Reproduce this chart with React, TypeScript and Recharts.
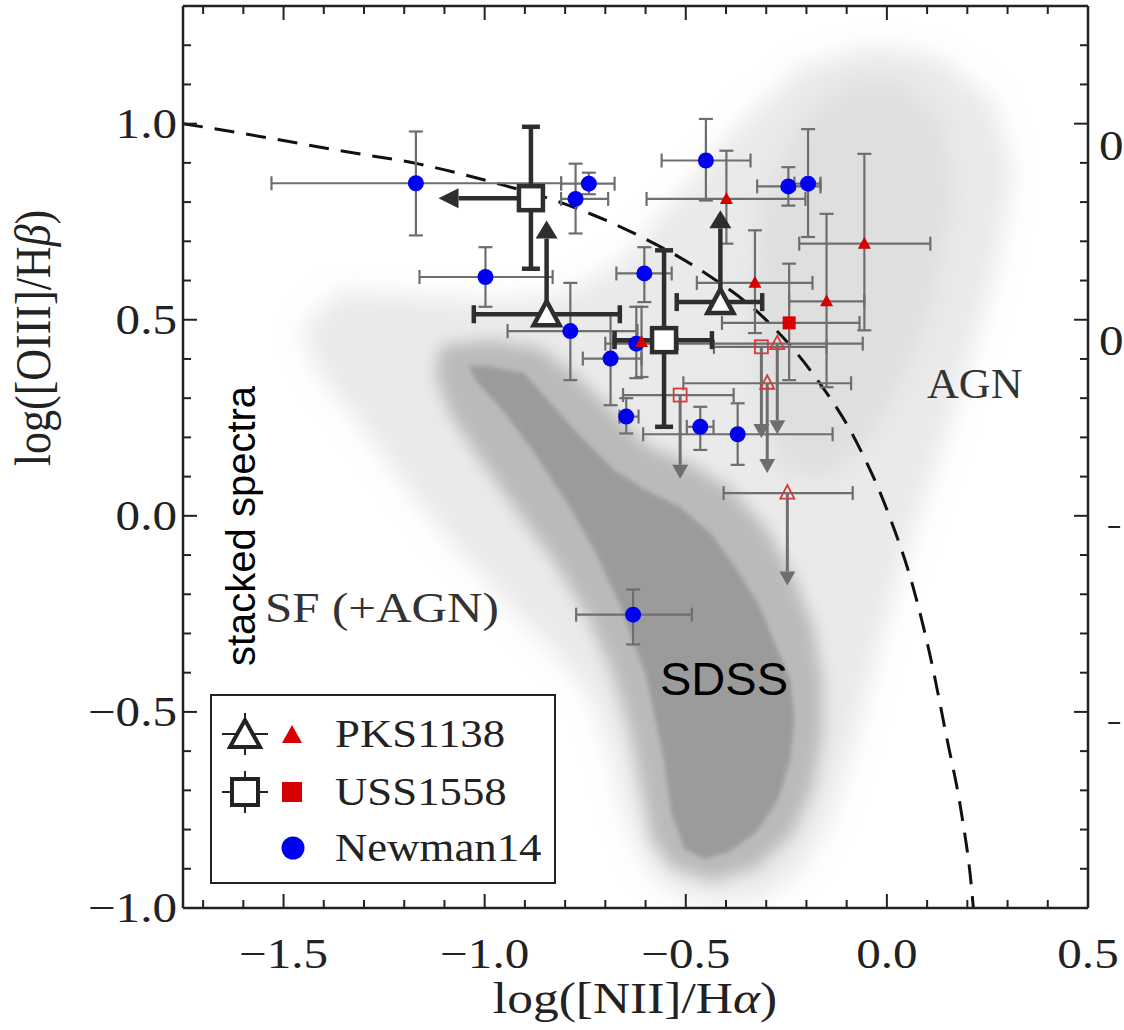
import React from 'react';
import { ScatterChart, Scatter, XAxis, YAxis, ErrorBar } from 'recharts';

const SERIF = '"Liberation Serif", "Times New Roman", serif';
const SANS = '"Liberation Sans", Arial, sans-serif';
const INK = '#222222';
const BAR = '#6e6e6e';
const DARK = '#2e2e2e';
const BLUE = '#0000f0';
const RED = '#d80000';
const RED_OPEN = '#d23c3c';

type Range = [number, number];

// axis ticks (minor every 0.1, labels on multiples of 0.5)
const xTicks = [-1.7, -1.6, -1.5, -1.4, -1.3, -1.2, -1.1, -1.0, -0.9, -0.8, -0.7, -0.6, -0.5, -0.4, -0.3, -0.2, -0.1, 0.0, 0.1, 0.2, 0.3, 0.4, 0.5];
const yTicks = [-1.0, -0.9, -0.8, -0.7, -0.6, -0.5, -0.4, -0.3, -0.2, -0.1, 0.0, 0.1, 0.2, 0.3, 0.4, 0.5, 0.6, 0.7, 0.8, 0.9, 1.0, 1.1, 1.2];

// SDSS cloud outlines (halo, AGN plume, medium band, dense core)
const haloX = [-1.46, -1.36, -1.16, -0.985, -0.81, -0.66, -0.51, -0.36, -0.21, -0.035, 0.1275, 0.265, 0.315, 0.2775, 0.215, 0.1525, 0.085, 0.0225, -0.035, -0.085, -0.14, -0.21, -0.31, -0.4475, -0.5475, -0.61, -0.655, -0.69, -0.735, -0.81, -0.91, -1.01, -1.11, -1.21, -1.31, -1.41];
const haloY = [0.473, 0.575, 0.562, 0.55, 0.562, 0.651, 0.83, 1.008, 1.148, 1.198, 1.173, 1.059, 0.88, 0.651, 0.422, 0.219, 0.015, -0.188, -0.392, -0.595, -0.774, -0.901, -0.977, -0.99, -0.952, -0.875, -0.748, -0.595, -0.468, -0.366, -0.265, -0.15, -0.036, 0.092, 0.232, 0.359];
const plumeX = [-0.31, -0.21, -0.085, 0.04, 0.14, 0.165, 0.115, 0.04, -0.06, -0.16, -0.26, -0.31, -0.335];
const plumeY = [0.804, 1.008, 1.109, 1.109, 1.008, 0.804, 0.55, 0.346, 0.168, 0.092, 0.117, 0.295, 0.55];
const bandX = [-1.11, -0.985, -0.86, -0.76, -0.685, -0.5975, -0.485, -0.385, -0.2975, -0.235, -0.185, -0.16, -0.16, -0.185, -0.235, -0.3225, -0.435, -0.535, -0.585, -0.61, -0.64, -0.685, -0.7475, -0.8225, -0.9225, -1.01, -1.085, -1.1225];
const bandY = [0.435, 0.448, 0.427, 0.346, 0.27, 0.181, 0.13, 0.066, -0.036, -0.15, -0.277, -0.417, -0.557, -0.697, -0.812, -0.896, -0.931, -0.896, -0.824, -0.697, -0.545, -0.392, -0.252, -0.125, 0.015, 0.142, 0.257, 0.359];
const coreX = [-1.04, -0.9975, -0.9025, -0.8225, -0.7575, -0.6775, -0.5975, -0.5175, -0.4375, -0.3725, -0.3175, -0.28, -0.24, -0.23, -0.24, -0.27, -0.3225, -0.39, -0.4525, -0.5025, -0.535, -0.555, -0.5975, -0.6625, -0.725, -0.79, -0.8775, -0.9575, -1.0225];
const coreY = [0.382, 0.382, 0.364, 0.272, 0.198, 0.117, 0.064, 0.025, -0.046, -0.137, -0.229, -0.321, -0.417, -0.519, -0.621, -0.723, -0.804, -0.855, -0.875, -0.85, -0.761, -0.621, -0.412, -0.229, -0.092, 0.025, 0.163, 0.272, 0.346];

// demarcation curve (dashed)
const demarcX = [-1.75, -1.528, -1.36, -1.168, -0.978, -0.803, -0.618, -0.455, -0.305, -0.178, -0.078, 0.005, 0.065, 0.108, 0.148, 0.185, 0.21, 0.215];
const demarcY = [1.0, 0.962, 0.931, 0.898, 0.85, 0.796, 0.715, 0.621, 0.504, 0.354, 0.193, 0.0025, -0.181, -0.359, -0.562, -0.756, -0.944, -1.0];

// Newman14
const newmanX = [-1.171, -0.741, -0.774, -0.998, -0.787, -0.603, -0.687, -0.623, -0.648, -0.464, -0.371, -0.45, -0.245, -0.196, -0.631];
const newmanY = [0.848, 0.847, 0.808, 0.609, 0.471, 0.618, 0.401, 0.439, 0.253, 0.227, 0.208, 0.906, 0.84, 0.847, -0.252];
const newmanXRange: Range[] = [[-1.53, -0.81], [-0.81, -0.677], [-0.81, -0.693], [-1.162, -0.831], [-0.943, -0.62], [-0.6725, -0.535], [-0.756, -0.61], [-0.7, -0.55], [-0.665, -0.6175], [-0.4975, -0.431], [-0.606, -0.135], [-0.56, -0.339], [-0.3225, -0.165], [-0.23, -0.165], [-0.7725, -0.485]];
const newmanYRange: Range[] = [[0.715, 0.98], [0.82, 0.875], [0.72, 0.898], [0.533, 0.685], [0.346, 0.594], [0.545, 0.685], [0.282, 0.516], [0.351, 0.533], [0.21, 0.3], [0.168, 0.278], [0.13, 0.287], [0.804, 1.012], [0.791, 0.889], [0.711, 0.986], [-0.328, -0.188]];

// PKS1138 individual detections
const pksX = [-0.399, -0.328, -0.15, -0.056, -0.61];
const pksY = [0.808, 0.594, 0.547, 0.694, 0.443];
const pksXRange: Range[] = [[-0.5975, -0.2025], [-0.4725, -0.185], [-0.243, -0.056], [-0.218, 0.108], [-0.68, -0.56]];
const pksYRange: Range[] = [[0.694, 0.931], [0.466, 0.728], [0.328, 0.77], [0.473, 0.923], [0.354, 0.533]];
// PKS1138 upper limits
const pksLimX = [-0.2725, -0.2975, -0.2475];
const pksLimY = [0.439, 0.338, 0.058];
const pksLimXRange: Range[] = [[-0.52, -0.06], [-0.506, -0.089], [-0.406, -0.085]];
const pksLimTo = [0.244, 0.145, -0.142];

// USS1558 individual
const ussX = [-0.243];
const ussY = [0.492];
const ussXRange: Range[] = [[-0.41, -0.068]];
const ussYRange: Range[] = [[0.346, 0.643]];
const ussLimX = [-0.312, -0.514];
const ussLimY = [0.431, 0.308];
const ussLimXRange: Range[] = [[-0.43, -0.15], [-0.656, -0.381]];
const ussLimTo = [0.234, 0.13];

// stacked spectra
const stackPksX = [-0.846, -0.414];
const stackPksY = [0.514, 0.545];
const stackPksXRange: Range[] = [[-1.027, -0.664], [-0.5225, -0.31]];
const stackPksTo = [0.707, 0.733];
const stackUssX = [-0.885, -0.554];
const stackUssY = [0.81, 0.448];
const stackUssXRange: Range[] = [[-0.885, -0.885], [-0.677, -0.435]];
const stackUssYRange: Range[] = [[0.63, 0.992], [0.227, 0.677]];
const stackUssLeftTo = -1.065;

function rows(xs: number[], ys: number[], xr?: Range[], yr?: Range[]) {
  return xs.map((x, i) => ({
    x,
    y: ys[i],
    ex: xr ? [x - xr[i][0], xr[i][1] - x] : [0, 0],
    ey: yr ? [ys[i] - yr[i][0], yr[i][1] - ys[i]] : [0, 0],
  }));
}
const outline = (xs: number[], ys: number[]) => xs.map((x, i) => ({ x, y: ys[i] }));

type Arrow = { x0: number; y0: number; x1: number; y1: number; dir: string; color: string; w: number; hw: number; hl: number };
const arrows: Arrow[] = [
  ...pksLimX.map((x, i) => ({ x0: x, y0: pksLimY[i], x1: x, y1: pksLimTo[i], dir: 'down', color: BAR, w: 3, hw: 8, hl: 14 })),
  ...ussLimX.map((x, i) => ({ x0: x, y0: ussLimY[i], x1: x, y1: ussLimTo[i], dir: 'down', color: BAR, w: 3, hw: 8, hl: 14 })),
];
const blackArrows: Arrow[] = [
  ...stackPksX.map((x, i) => ({ x0: x, y0: stackPksY[i], x1: x, y1: stackPksTo[i], dir: 'up', color: DARK, w: 4.5, hw: 11, hl: 18 })),
  { x0: stackUssX[0], y0: stackUssY[0], x1: stackUssLeftTo, y1: stackUssY[0], dir: 'left', color: DARK, w: 4.5, hw: 10, hl: 20 },
];

const isMajor = (v: number) => Math.abs(v * 2 - Math.round(v * 2)) < 1e-6;
const fmt = (v: number) => (Math.abs(v) < 1e-9 ? '0.0' : v.toFixed(1).replace('-', '\u2212'));

function SText({ x, y, children, size = 42, sx = 1.17, anchor = 'start', rotate = 0, fill = INK, family = SERIF }: any) {
  return (
    <text transform={`translate(${x},${y}) scale(${sx},1) rotate(${rotate})`} textAnchor={anchor} fontSize={size} fontFamily={family} fill={fill}>
      {children}
    </text>
  );
}

const Nothing = () => <g />;

const polygon = (fill: string, opacity: number, filter?: string) => (p: any) => {
  const pts = p.points || [];
  const d = pts.map((q: any, i: number) => `${i ? 'L' : 'M'}${q.x},${q.y}`).join('') + 'Z';
  return <path d={d} fill={fill} fillOpacity={opacity} stroke="none" filter={filter ? `url(#${filter})` : undefined} />;
};

const arrowHead = (color: string, hw: number, hl: number) => (p: any) => {
  const dir = p.payload && p.payload.head;
  if (!dir) return <g />;
  const { cx, cy } = p;
  let pts = '';
  if (dir === 'up') pts = `${cx},${cy - hl} ${cx - hw},${cy} ${cx + hw},${cy}`;
  if (dir === 'down') pts = `${cx},${cy + hl} ${cx - hw},${cy} ${cx + hw},${cy}`;
  if (dir === 'left') pts = `${cx - hl},${cy} ${cx},${cy - hw} ${cx},${cy + hw}`;
  return <polygon points={pts} fill={color} />;
};

const blueDot = (p: any) => <circle cx={p.cx} cy={p.cy} r={8} fill={BLUE} />;
const redTri = (p: any) => <polygon points={`${p.cx},${p.cy - 7} ${p.cx - 6.5},${p.cy + 5} ${p.cx + 6.5},${p.cy + 5}`} fill={RED} />;
const redSq = (p: any) => <rect x={p.cx - 6.5} y={p.cy - 6.5} width={13} height={13} fill={RED} />;
const openTri = (p: any) => <polygon points={`${p.cx},${p.cy - 8} ${p.cx - 7},${p.cy + 5.5} ${p.cx + 7},${p.cy + 5.5}`} fill="none" stroke={RED_OPEN} strokeWidth={1.8} />;
const openSq = (p: any) => <rect x={p.cx - 6.5} y={p.cy - 6.5} width={13} height={13} fill="none" stroke={RED_OPEN} strokeWidth={1.8} />;
const stackSq = (p: any) => <rect x={p.cx - 12} y={p.cy - 12} width={24} height={24} fill="#fff" stroke={DARK} strokeWidth={4.5} />;
const stackTri = (p: any) => <polygon points={`${p.cx},${p.cy - 13} ${p.cx - 13},${p.cy + 11} ${p.cx + 13},${p.cy + 11}`} fill="#fff" stroke={DARK} strokeWidth={4.5} />;

const bottomTick = (p: any) => {
  const v = p.payload.value;
  const major = isMajor(v);
  return (
    <g>
      <line x1={p.x} x2={p.x} y1={p.y} y2={p.y - (major ? 14 : 8)} stroke={INK} strokeWidth={2} />
      {major && <SText x={p.x} y={p.y + 60} anchor="middle">{fmt(v)}</SText>}
    </g>
  );
};
const topTick = (p: any) => {
  const major = isMajor(p.payload.value);
  return <line x1={p.x} x2={p.x} y1={p.y} y2={p.y + (major ? 14 : 8)} stroke={INK} strokeWidth={2} />;
};
const leftTick = (p: any) => {
  const v = p.payload.value;
  const major = isMajor(v);
  return (
    <g>
      <line x1={p.x} x2={p.x + (major ? 14 : 8)} y1={p.y} y2={p.y} stroke={INK} strokeWidth={2} />
      {major && <SText x={p.x - 6} y={p.y + 14} anchor="end">{fmt(v)}</SText>}
    </g>
  );
};
const rightTick = (p: any) => {
  const major = isMajor(p.payload.value);
  return <line x1={p.x} x2={p.x - (major ? 14 : 8)} y1={p.y} y2={p.y} stroke={INK} strokeWidth={2} />;
};

const AXIS_LINE = { stroke: INK, strokeWidth: 2.5 };
const CLOUD_Z = -200;

export default function App() {
  const indivBar = { stroke: BAR, strokeWidth: 2.2, width: 7 };
  const stackBar = { stroke: DARK, strokeWidth: 4.5, width: 9 };
  const cloudProps: any = { shape: Nothing, isAnimationActive: false, legendType: 'none', zIndex: CLOUD_Z };
  return (
    <div style={{ position: 'absolute', left: 0, top: 0, width: 1124, height: 1030, background: '#fff' }}>
      <svg width={0} height={0} style={{ position: 'absolute' }}>
        <defs>
          <filter id="soft12" x="-20%" y="-20%" width="140%" height="140%"><feGaussianBlur stdDeviation={12} /></filter>
          <filter id="soft8" x="-20%" y="-20%" width="140%" height="140%"><feGaussianBlur stdDeviation={8} /></filter>
          <filter id="soft2" x="-20%" y="-20%" width="140%" height="140%"><feGaussianBlur stdDeviation={2} /></filter>
        </defs>
      </svg>
      <ScatterChart width={1124} height={1030} margin={{ top: 5, right: 35, bottom: 121, left: 182 }}>
        <XAxis dataKey="x" type="number" domain={[-1.75, 0.5]} allowDataOverflow ticks={xTicks} interval={0} height={1}
          tickSize={0} tickMargin={0} tickLine={false} axisLine={AXIS_LINE} tick={bottomTick} />
        <XAxis xAxisId="top" orientation="top" dataKey="x" type="number" domain={[-1.75, 0.5]} allowDataOverflow ticks={xTicks} interval={0} height={1}
          tickSize={0} tickMargin={0} tickLine={false} axisLine={AXIS_LINE} tick={topTick} />
        <YAxis dataKey="y" type="number" domain={[-1.0, 1.3]} allowDataOverflow ticks={yTicks} interval={0} width={1}
          tickSize={0} tickMargin={0} tickLine={false} axisLine={AXIS_LINE} tick={leftTick} />
        <YAxis yAxisId="right" orientation="right" dataKey="y" type="number" domain={[-1.0, 1.3]} allowDataOverflow ticks={yTicks} interval={0} width={1}
          tickSize={0} tickMargin={0} tickLine={false} axisLine={AXIS_LINE} tick={rightTick} />

        <Scatter data={outline(haloX, haloY)} line={polygon('#d6d6d6', 0.5, 'soft12')} {...cloudProps} />
        <Scatter data={outline(plumeX, plumeY)} line={polygon('#cccccc', 0.35, 'soft12')} {...cloudProps} />
        <Scatter data={outline(bandX, bandY)} line={polygon('#b5b5b5', 0.9, 'soft8')} {...cloudProps} />
        <Scatter data={outline(coreX, coreY)} line={polygon('#9b9b9b', 1, 'soft2')} {...cloudProps} />
        <Scatter data={outline(demarcX, demarcY)} lineJointType="monotoneX" line={{ stroke: '#111', strokeWidth: 3, strokeDasharray: '20 12', fill: 'none' }}
          {...cloudProps} zIndex={CLOUD_Z + 1} />

        <Scatter data={rows(newmanX, newmanY, newmanXRange, newmanYRange)} shape={blueDot} isAnimationActive={false}>
          <ErrorBar dataKey="ex" direction="x" {...indivBar} />
          <ErrorBar dataKey="ey" direction="y" {...indivBar} />
        </Scatter>
        <Scatter data={rows(pksX, pksY, pksXRange, pksYRange)} shape={redTri} isAnimationActive={false}>
          <ErrorBar dataKey="ex" direction="x" {...indivBar} />
          <ErrorBar dataKey="ey" direction="y" {...indivBar} />
        </Scatter>
        <Scatter data={rows(ussX, ussY, ussXRange, ussYRange)} shape={redSq} isAnimationActive={false}>
          <ErrorBar dataKey="ex" direction="x" {...indivBar} />
          <ErrorBar dataKey="ey" direction="y" {...indivBar} />
        </Scatter>

        {arrows.map((a, i) => (
          <Scatter key={`ga${i}`} data={[{ x: a.x0, y: a.y0 }, { x: a.x1, y: a.y1, head: a.dir }]} line={{ stroke: a.color, strokeWidth: a.w }}
            shape={arrowHead(a.color, a.hw, a.hl)} isAnimationActive={false} legendType="none" />
        ))}

        <Scatter data={rows(pksLimX, pksLimY, pksLimXRange)} shape={openTri} isAnimationActive={false}>
          <ErrorBar dataKey="ex" direction="x" {...indivBar} />
        </Scatter>
        <Scatter data={rows(ussLimX, ussLimY, ussLimXRange)} shape={openSq} isAnimationActive={false}>
          <ErrorBar dataKey="ex" direction="x" {...indivBar} />
        </Scatter>

        {blackArrows.map((a, i) => (
          <Scatter key={`ba${i}`} data={[{ x: a.x0, y: a.y0 }, { x: a.x1, y: a.y1, head: a.dir }]} line={{ stroke: a.color, strokeWidth: a.w }}
            shape={arrowHead(a.color, a.hw, a.hl)} isAnimationActive={false} legendType="none" />
        ))}

        <Scatter data={rows(stackUssX, stackUssY, stackUssXRange, stackUssYRange)} shape={stackSq} isAnimationActive={false}>
          <ErrorBar dataKey="ex" direction="x" {...stackBar} />
          <ErrorBar dataKey="ey" direction="y" {...stackBar} />
        </Scatter>
        <Scatter data={rows(stackPksX, stackPksY, stackPksXRange)} shape={stackTri} isAnimationActive={false}>
          <ErrorBar dataKey="ex" direction="x" {...stackBar} />
        </Scatter>
      </ScatterChart>

      <svg width={1124} height={1030} style={{ position: 'absolute', left: 0, top: 0, pointerEvents: 'none' }}>
        {/* axis titles */}
        <SText x={635} y={1013} size={44} anchor="middle">log([NII]/H<tspan fontStyle="italic">α</tspan>)</SText>
        <SText x={50} y={338} size={44} anchor="middle" rotate={-90}>log([OIII]/H<tspan fontStyle="italic">β</tspan>)</SText>

        {/* region labels */}
        <SText x={265} y={622} fill="#333">SF (+AGN)</SText>
        <SText x={927} y={398} fill="#333" sx={1.05}>AGN</SText>
        <SText x={660} y={695} family={SANS} size={47} sx={1} fill="#000">SDSS</SText>
        <SText x={255} y={526} family={SANS} size={40} sx={1} rotate={-90} anchor="middle" fill="#000">stacked spectra</SText>

        {/* neighbouring panel labels at the right edge */}
        <SText x={1099} y={160}>0</SText>
        <SText x={1099} y={355}>0</SText>
        <SText x={1107} y={541} sx={0.6}>−</SText>
        <SText x={1107} y={737} sx={0.6}>−</SText>

        {/* legend */}
        <rect x={211} y={695} width={344} height={188} fill="#fff" stroke={INK} strokeWidth={2} />
        <line x1={222} x2={268} y1={734} y2={734} stroke={INK} strokeWidth={2} />
        <line x1={245} x2={245} y1={713} y2={755} stroke={INK} strokeWidth={2} />
        <polygon points="245,720 230,747 260,747" fill="#fff" stroke={INK} strokeWidth={4} />
        <polygon points="292,725 282,743 302,743" fill={RED} />
        <SText x={335} y={747} size={40} sx={1.12}>PKS1138</SText>
        <line x1={222} x2={268} y1={792} y2={792} stroke={INK} strokeWidth={2} />
        <line x1={245} x2={245} y1={771} y2={813} stroke={INK} strokeWidth={2} />
        <rect x={232} y={779} width={26} height={26} fill="#fff" stroke={INK} strokeWidth={4} />
        <rect x={282} y={782} width={20} height={20} fill={RED} />
        <SText x={335} y={805} size={40} sx={1.12}>USS1558</SText>
        <circle cx={293} cy={848} r={11.5} fill={BLUE} />
        <SText x={335} y={861} size={40} sx={1.12}>Newman14</SText>
      </svg>
    </div>
  );
}
